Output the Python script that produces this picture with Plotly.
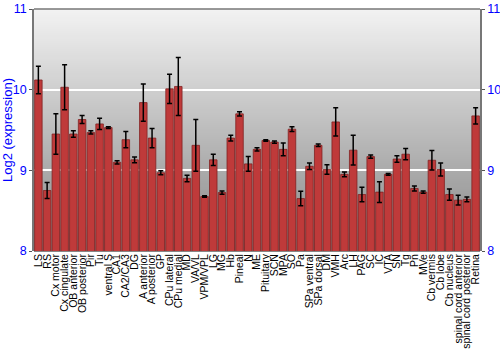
import plotly.graph_objects as go

categories = ["LS", "RS", "Cx motor", "Cx cingulate", "OB anterior", "OB posterior", "Pir", "Tu",
              "ventral S", "CA1", "CA2/CA3", "DG", "A anterior", "A posterior", "GP", "CPu lateral",
              "CPu medial", "MD", "VA/VL", "VPM/VPL", "LG", "MG", "Hb", "Pineal", "N", "ME",
              "Pituitary", "SCN", "MPA", "SO", "Pa", "SPa ventral", "SPa dorsal", "DM", "VMH", "Arc",
              "LH", "PAG", "SC", "IC", "VTA", "SN", "Tg", "Pn", "MVe", "Cb vermis", "Cb lobe",
              "Cb nucleus", "spinal cord anterior", "spinal cord posterior", "Retina"]

values = [10.12, 8.75, 9.45, 10.03, 9.45, 9.63, 9.47, 9.575,
          9.53, 9.10, 9.38, 9.13, 9.84, 9.40, 8.97, 10.01,
          10.04, 8.90, 9.31, 8.675, 9.13, 8.725, 9.40, 9.70, 9.08, 9.26,
          9.37, 9.35, 9.26, 9.51, 8.65, 9.05, 9.31, 9.01, 9.60, 8.95,
          9.25, 8.70, 9.17, 8.73, 8.95, 9.14, 9.20, 8.775, 8.73, 9.125, 9.01,
          8.70, 8.63, 8.64, 9.675]

errors = [0.17, 0.10, 0.25, 0.28, 0.04, 0.05, 0.02, 0.07,
          0.01, 0.02, 0.10, 0.035, 0.23, 0.12, 0.025, 0.18,
          0.36, 0.04, 0.32, 0.01, 0.07, 0.02, 0.035, 0.025, 0.09, 0.02,
          0.01, 0.015, 0.08, 0.03, 0.09, 0.04, 0.015, 0.06, 0.175, 0.03,
          0.185, 0.09, 0.02, 0.13, 0.01, 0.04, 0.07, 0.03, 0.015, 0.12, 0.08,
          0.07, 0.06, 0.03, 0.10]

y_ticks = [8, 9, 10, 11]
y_title = "Log2 (expression)"

fig = go.Figure()
fig.add_trace(go.Bar(
    x=categories, y=values, base=0,
    marker=dict(color="#bf3a3a", line=dict(color="#822222", width=0.8)),
    error_y=dict(type="data", array=errors, color="black", thickness=1.5, width=2.5),
    showlegend=False, hoverinfo="x+y",
))
fig.add_trace(go.Scatter(
    x=categories, y=values, yaxis="y2", mode="markers",
    marker=dict(opacity=0), showlegend=False, hoverinfo="skip",
))

# vertical grey gradient background
n = 121
top = (242, 242, 242)
bot = (135, 135, 135)
for i in range(n):
    t = i / (n - 1)
    c = tuple(int(round(top[k] + (bot[k] - top[k]) * t)) for k in range(3))
    fig.add_shape(type="rect", xref="x domain", yref="y domain",
                  x0=0, x1=1, y0=1 - (i + 1.5) / n, y1=1 - i / n,
                  fillcolor="rgb(%d,%d,%d)" % c, line=dict(width=0), layer="below")

font = "Liberation Sans, Arial, sans-serif"
fig.update_layout(
    width=500, height=350,
    margin=dict(l=34, r=20, t=9, b=99, pad=0),
    paper_bgcolor="white", plot_bgcolor="rgba(0,0,0,0)",
    bargap=0.14,
    font=dict(family=font),
    xaxis=dict(tickangle=-90, tickfont=dict(size=10.5, color="black", family=font),
               tickmode="array", tickvals=categories, ticktext=categories,
               showgrid=False, showline=False, ticks="", ticklen=0, automargin=False,
               range=[-0.5, len(categories) - 0.5]),
    yaxis=dict(range=[8, 11], tickvals=y_ticks, tickfont=dict(size=12.5, color="blue", family=font),
               title=dict(text=y_title, font=dict(size=13, color="blue", family=font), standoff=6),
               showgrid=True, gridcolor="white", gridwidth=2, zeroline=False, automargin=False,
               showline=True, linecolor="#777777", linewidth=1.5,
               ticks="outside", ticklen=3, tickcolor="#555555"),
    yaxis2=dict(range=[8, 11], tickvals=y_ticks, overlaying="y", side="right",
                tickfont=dict(size=12.5, color="blue", family=font), automargin=False,
                showgrid=False, zeroline=False,
                showline=True, linecolor="#777777", linewidth=1.5,
                ticks="outside", ticklen=3, tickcolor="#555555"),
)
fig.add_shape(type="line", xref="x domain", yref="y domain", x0=0, x1=1, y0=1, y1=1,
              line=dict(color="#777777", width=1.5))

fig.write_html("out.html")
